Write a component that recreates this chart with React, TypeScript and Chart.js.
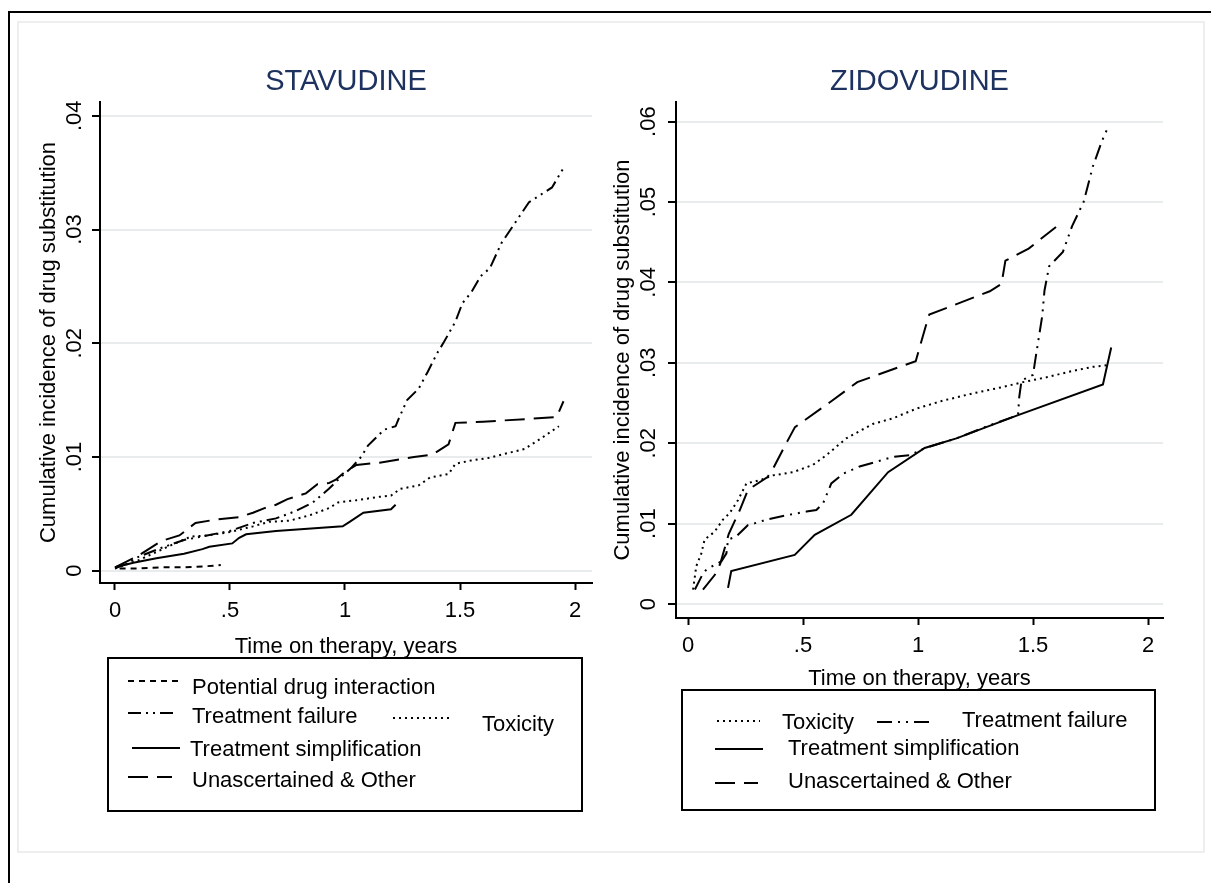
import React, { useEffect, useRef } from "react";
import { Chart, registerables } from "chart.js";

Chart.register(...registerables);

const FONT = '"Liberation Sans", Arial, Helvetica, sans-serif';

// ---- Axis ticks ----
const xTicks = [0, 0.5, 1, 1.5, 2];
const xTickLabels = ["0", ".5", "1", "1.5", "2"];
const stavYTicks = [0, 0.01, 0.02, 0.03, 0.04];
const stavYTickLabels = ["0", ".01", ".02", ".03", ".04"];
const zidoYTicks = [0, 0.01, 0.02, 0.03, 0.04, 0.05, 0.06];
const zidoYTickLabels = ["0", ".01", ".02", ".03", ".04", ".05", ".06"];

// ---- Category labels ----
const lblInteraction = "Potential drug interaction";
const lblFailure = "Treatment failure";
const lblToxicity = "Toxicity";
const lblSimplification = "Treatment simplification";
const lblOther = "Unascertained & Other";

// ---- STAVUDINE series (time in years, cumulative incidence) ----
const stavInteractionT = [0.02, 0.1, 0.2, 0.3, 0.4, 0.46];
const stavInteractionV = [0.0002, 0.0002, 0.0003, 0.0003, 0.0004, 0.0005];

const stavFailureT = [0, 0.05, 0.1, 0.2, 0.3, 0.4, 0.5, 0.6, 0.7, 0.78, 0.86, 0.93, 0.98, 1.03, 1.07, 1.1, 1.13, 1.17, 1.22, 1.23, 1.27, 1.32, 1.36, 1.4, 1.43, 1.48, 1.51, 1.55, 1.59, 1.63, 1.68, 1.74, 1.8, 1.9, 1.95];
const stavFailureV = [0.0002, 0.0006, 0.0012, 0.002, 0.0027, 0.0031, 0.0035, 0.0042, 0.0046, 0.0052, 0.006, 0.0072, 0.0082, 0.0091, 0.01, 0.011, 0.0116, 0.0124, 0.0127, 0.0132, 0.015, 0.016, 0.0175, 0.0191, 0.0201, 0.0219, 0.0235, 0.0245, 0.0259, 0.0266, 0.0288, 0.0306, 0.0324, 0.0337, 0.0354];

const stavToxicityT = [0, 0.1, 0.25, 0.33, 0.4, 0.5, 0.6, 0.67, 0.76, 0.85, 0.93, 0.97, 1.05, 1.15, 1.2, 1.24, 1.32, 1.37, 1.45, 1.48, 1.55, 1.62, 1.68, 1.78, 1.85, 1.93];
const stavToxicityV = [0.0002, 0.0009, 0.0023, 0.003, 0.0031, 0.0034, 0.0039, 0.0043, 0.0044, 0.0049, 0.0055, 0.006, 0.0062, 0.0065, 0.0066, 0.0072, 0.0075, 0.0082, 0.0085, 0.0094, 0.0097, 0.0099, 0.0102, 0.0107, 0.0116, 0.0127];

const stavSimplificationT = [0, 0.08, 0.18, 0.3, 0.38, 0.41, 0.51, 0.54, 0.57, 0.7, 0.99, 1.02, 1.08, 1.2, 1.22];
const stavSimplificationV = [0.0003, 0.0007, 0.0011, 0.0015, 0.0019, 0.0021, 0.0024, 0.0029, 0.0032, 0.0035, 0.0039, 0.0043, 0.0051, 0.0054, 0.0058];

const stavOtherT = [0, 0.05, 0.1, 0.2, 0.28, 0.35, 0.44, 0.54, 0.6, 0.65, 0.7, 0.75, 0.83, 0.88, 0.93, 0.96, 1.0, 1.05, 1.15, 1.3, 1.38, 1.45, 1.48, 1.6, 1.92, 1.95];
const stavOtherV = [0.0003, 0.0008, 0.0013, 0.0026, 0.0031, 0.0042, 0.0045, 0.0047, 0.0051, 0.0055, 0.0058, 0.0063, 0.0068, 0.0076, 0.0077, 0.008, 0.0087, 0.0093, 0.0095, 0.01, 0.0102, 0.0111, 0.013, 0.0131, 0.0135, 0.0149];

// ---- ZIDOVUDINE series ----
const zidoToxicityT = [0.022, 0.036, 0.058, 0.072, 0.116, 0.152, 0.181, 0.217, 0.254, 0.312, 0.37, 0.457, 0.543, 0.601, 0.688, 0.804, 0.891, 0.993, 1.109, 1.239, 1.37, 1.457, 1.558, 1.674, 1.761, 1.819];
const zidoToxicityV = [0.0018, 0.0047, 0.0063, 0.008, 0.009, 0.0105, 0.0113, 0.0129, 0.015, 0.0154, 0.016, 0.0164, 0.0173, 0.0185, 0.0206, 0.0224, 0.0231, 0.0243, 0.0253, 0.0262, 0.027, 0.0276, 0.0282, 0.029, 0.0295, 0.0297];

const zidoFailureT = [0.03, 0.06, 0.08, 0.145, 0.167, 0.174, 0.21, 0.26, 0.31, 0.34, 0.44, 0.515, 0.558, 0.587, 0.623, 0.674, 0.746, 0.819, 0.891, 0.964, 1.03, 1.167, 1.3, 1.435, 1.44, 1.45, 1.5, 1.515, 1.54, 1.55, 1.57, 1.63, 1.67, 1.72, 1.76, 1.8, 1.82];
const zidoFailureV = [0.0018, 0.0035, 0.0043, 0.0053, 0.0063, 0.008, 0.0084, 0.0098, 0.0102, 0.0105, 0.0111, 0.0115, 0.0117, 0.0125, 0.015, 0.0162, 0.0171, 0.0177, 0.0183, 0.0185, 0.0194, 0.0206, 0.0221, 0.0235, 0.0257, 0.0278, 0.0285, 0.0313, 0.0358, 0.039, 0.042, 0.0438, 0.047, 0.05, 0.0544, 0.0576, 0.0589];

const zidoSimplificationT = [0.174, 0.188, 0.464, 0.551, 0.71, 0.87, 1.029, 1.167, 1.435, 1.804, 1.84];
const zidoSimplificationV = [0.002, 0.0041, 0.0061, 0.0086, 0.0111, 0.0164, 0.0194, 0.0206, 0.0235, 0.0273, 0.0319];

const zidoOtherT = [0.065, 0.116, 0.14, 0.177, 0.227, 0.261, 0.346, 0.371, 0.431, 0.465, 0.617, 0.736, 0.99, 1.032, 1.049, 1.312, 1.363, 1.38, 1.481, 1.6];
const zidoOtherV = [0.0018, 0.0036, 0.005, 0.0087, 0.0118, 0.0142, 0.0158, 0.0169, 0.0202, 0.022, 0.0251, 0.0276, 0.0302, 0.0344, 0.036, 0.0389, 0.0398, 0.0427, 0.0442, 0.0469];

// ---- Line styles ----
const DASH_INTERACTION = [6, 5];
const DASH_FAILURE = [13, 5, 2, 5, 2, 5];
const DASH_TOXICITY = [2, 4];
const DASH_SOLID: number[] = [];
const DASH_OTHER = [20, 9];
const DASH_FAILURE_Z = [15, 6, 2, 6, 2, 6];

type Series = { label: string; t: number[]; v: number[]; dash: number[] };

const stavSeries: Series[] = [
  { label: lblInteraction, t: stavInteractionT, v: stavInteractionV, dash: DASH_INTERACTION },
  { label: lblFailure, t: stavFailureT, v: stavFailureV, dash: DASH_FAILURE },
  { label: lblToxicity, t: stavToxicityT, v: stavToxicityV, dash: DASH_TOXICITY },
  { label: lblSimplification, t: stavSimplificationT, v: stavSimplificationV, dash: DASH_SOLID },
  { label: lblOther, t: stavOtherT, v: stavOtherV, dash: DASH_OTHER },
];

const zidoSeries: Series[] = [
  { label: lblToxicity, t: zidoToxicityT, v: zidoToxicityV, dash: DASH_TOXICITY },
  { label: lblFailure, t: zidoFailureT, v: zidoFailureV, dash: DASH_FAILURE_Z },
  { label: lblSimplification, t: zidoSimplificationT, v: zidoSimplificationV, dash: DASH_SOLID },
  { label: lblOther, t: zidoOtherT, v: zidoOtherV, dash: DASH_OTHER },
];

type PanelProps = {
  left: number;
  top: number;
  width: number;
  height: number;
  title: string;
  series: Series[];
  yTicks: number[];
  yTickLabels: string[];
  xMin: number;
  xMax: number;
  yMin: number;
  yMax: number;
  padding: { left: number; right: number; top: number; bottom: number };
  yScaleWidth: number;
  yTitlePad: number;
  yTickPad: number;
  xTitlePadBottom: number;
};

function Panel(p: PanelProps) {
  const ref = useRef<HTMLCanvasElement | null>(null);
  useEffect(() => {
    if (!ref.current) return;
    const tickFont = { family: FONT, size: 22 };
    const chart = new Chart(ref.current, {
      type: "scatter",
      data: {
        datasets: p.series.map((s) => ({
          label: s.label,
          data: s.t.map((t, i) => ({ x: t, y: s.v[i] })),
          showLine: true,
          borderColor: "#000",
          backgroundColor: "#000",
          borderWidth: 2,
          borderDash: s.dash,
          pointRadius: 0,
          pointHoverRadius: 0,
          tension: 0,
          fill: false,
        })),
      },
      options: {
        animation: false,
        responsive: false,
        maintainAspectRatio: false,
        events: [],
        layout: { padding: p.padding },
        plugins: {
          legend: { display: false },
          tooltip: { enabled: false },
          title: {
            display: true,
            text: p.title,
            color: "#1e3260",
            fullSize: false,
            font: { family: FONT, size: 29, weight: "normal" },
            padding: { top: 24.6, bottom: 2.6 },
          },
        },
        scales: {
          x: {
            type: "linear",
            min: p.xMin,
            max: p.xMax,
            afterBuildTicks: (s: any) => {
              s.ticks = xTicks.map((v) => ({ value: v }));
            },
            afterFit: (s: any) => {
              s.height = 80;
            },
            grid: {
              drawOnChartArea: false,
              drawTicks: true,
              tickLength: 7,
              tickColor: "#000",
              tickWidth: 2,
            },
            border: { display: true, color: "#000", width: 2 },
            ticks: {
              autoSkip: false,
              maxRotation: 0,
              minRotation: 0,
              padding: 8,
              color: "#000",
              font: tickFont,
              callback: (_v: any, i: number) => xTickLabels[i],
            },
            title: {
              display: true,
              text: "Time on therapy, years",
              color: "#000",
              font: tickFont,
              padding: { top: 0, bottom: p.xTitlePadBottom },
            },
          },
          y: {
            type: "linear",
            min: p.yMin,
            max: p.yMax,
            afterBuildTicks: (s: any) => {
              s.ticks = p.yTicks.map((v) => ({ value: v }));
            },
            afterFit: (s: any) => {
              s.width = p.yScaleWidth;
            },
            grid: {
              drawOnChartArea: true,
              drawTicks: true,
              color: "#e9ecec",
              lineWidth: 2,
              tickLength: 8,
              tickColor: "#000",
              tickWidth: 2,
            },
            border: { display: true, color: "#000", width: 2 },
            ticks: {
              autoSkip: false,
              minRotation: 90,
              maxRotation: 90,
              crossAlign: "center",
              padding: p.yTickPad,
              color: "#000",
              font: tickFont,
              callback: (_v: any, i: number) => p.yTickLabels[i],
            },
            title: {
              display: true,
              text: "Cumulative incidence of drug substitution",
              color: "#000",
              font: tickFont,
              padding: { top: p.yTitlePad, bottom: 0 },
            },
          },
        },
      } as any,
    });
    return () => chart.destroy();
  }, []);
  return (
    <canvas
      ref={ref}
      width={p.width}
      height={p.height}
      style={{ position: "absolute", left: p.left, top: p.top, width: p.width, height: p.height }}
    />
  );
}

type LegendItem = { label: string; dash: number[]; x1: number; x2: number; ly: number; tx: number; ty: number };

const stavLegend: LegendItem[] = [
  { label: lblInteraction, dash: DASH_INTERACTION, x1: 128, x2: 178, ly: 681, tx: 192, ty: 686.5 },
  { label: lblFailure, dash: DASH_FAILURE, x1: 128, x2: 178, ly: 713, tx: 192, ty: 715.5 },
  { label: lblToxicity, dash: DASH_TOXICITY, x1: 393, x2: 450, ly: 718, tx: 482, ty: 723.5 },
  { label: lblSimplification, dash: DASH_SOLID, x1: 132, x2: 180, ly: 748, tx: 190, ty: 748.5 },
  { label: lblOther, dash: DASH_OTHER, x1: 128, x2: 172, ly: 777, tx: 192, ty: 780 },
];

const zidoLegend: LegendItem[] = [
  { label: lblToxicity, dash: DASH_TOXICITY, x1: 717, x2: 760, ly: 721, tx: 782, ty: 722 },
  { label: lblFailure, dash: DASH_FAILURE_Z, x1: 877, x2: 929, ly: 722, tx: 962, ty: 719.5 },
  { label: lblSimplification, dash: DASH_SOLID, x1: 715, x2: 763, ly: 749, tx: 788, ty: 748 },
  { label: lblOther, dash: DASH_OTHER, x1: 715, x2: 758, ly: 783, tx: 788, ty: 781 },
];

function Legend({ box, items }: { box: { l: number; t: number; r: number; b: number }; items: LegendItem[] }) {
  return (
    <>
      <div
        style={{
          position: "absolute",
          left: box.l,
          top: box.t,
          width: box.r - box.l,
          height: box.b - box.t,
          border: "2px solid #000",
          boxSizing: "border-box",
        }}
      />
      {items.map((it, i) => (
        <React.Fragment key={i}>
          <svg
            width={it.x2 - it.x1}
            height={6}
            style={{ position: "absolute", left: it.x1, top: it.ly - 3, overflow: "visible" }}
          >
            <line
              x1={0}
              y1={3}
              x2={it.x2 - it.x1}
              y2={3}
              stroke="#000"
              strokeWidth={2}
              strokeDasharray={it.dash.length ? it.dash.join(" ") : undefined}
            />
          </svg>
          <div
            style={{
              position: "absolute",
              left: it.tx,
              top: it.ty - 11.7,
              fontFamily: FONT,
              fontSize: 22,
              lineHeight: "24px",
              color: "#000",
              whiteSpace: "nowrap",
            }}
          >
            {it.label}
          </div>
        </React.Fragment>
      ))}
    </>
  );
}

export default function App() {
  return (
    <div
      style={{
        position: "absolute",
        left: 0,
        top: 0,
        width: 1211,
        height: 883,
        background: "#fff",
        overflow: "hidden",
        fontFamily: FONT,
      }}
    >
      <div
        style={{
          position: "absolute",
          left: 8,
          top: 11,
          width: 1300,
          height: 1000,
          borderLeft: "2px solid #000",
          borderTop: "2px solid #000",
        }}
      />
      <div
        style={{
          position: "absolute",
          left: 17,
          top: 21,
          width: 1188,
          height: 832,
          border: "2px solid #eeeeee",
          boxSizing: "border-box",
        }}
      />
      <Panel
        left={0}
        top={0}
        width={600}
        height={670}
        title="STAVUDINE"
        series={stavSeries}
        yTicks={stavYTicks}
        yTickLabels={stavYTickLabels}
        xMin={-0.0652}
        xMax={2.0739}
        yMin={-0.00108}
        yMax={0.04121}
        padding={{ left: 20, right: 8, top: 40, bottom: 7 }}
        yScaleWidth={80}
        yTitlePad={15.4}
        yTickPad={1.7}
        xTitlePadBottom={2.4}
      />
      <Panel
        left={600}
        top={0}
        width={611}
        height={705}
        title="ZIDOVUDINE"
        series={zidoSeries}
        yTicks={zidoYTicks}
        yTickLabels={zidoYTickLabels}
        xMin={-0.0522}
        xMax={2.0652}
        yMin={-0.00174}
        yMax={0.06244}
        padding={{ left: 0, right: 48, top: 40, bottom: 7 }}
        yScaleWidth={76}
        yTitlePad={9.4}
        yTickPad={3.7}
        xTitlePadBottom={5.4}
      />
      <Legend box={{ l: 107, t: 657, r: 583, b: 812 }} items={stavLegend} />
      <Legend box={{ l: 681, t: 689, r: 1156, b: 811 }} items={zidoLegend} />
    </div>
  );
}
